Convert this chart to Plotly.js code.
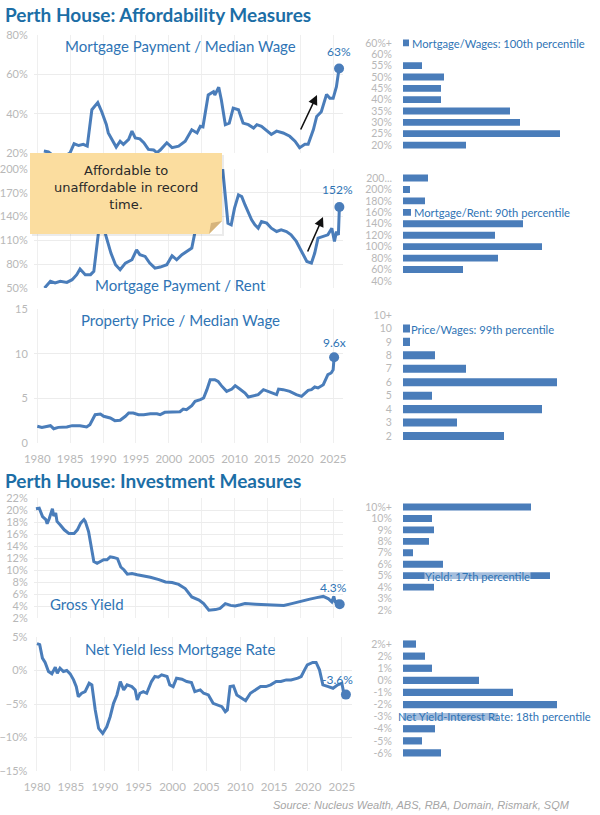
<!DOCTYPE html>
<html><head><meta charset="utf-8">
<script src="https://cdn.plot.ly/plotly-3.0.1.min.js"></script>
<style>html,body{margin:0;padding:0;background:#fff}#chart{width:600px;height:815px}</style>
</head><body><div id="chart"></div>
<script>
// ---------- DATA ----------
// Mortgage Payment / Median Wage (%)
const mwYears = [1981.0,1981.7,1982.5,1983.5,1984.5,1985.0,1985.6,1986.3,1987.0,1987.6,1988.3,1989.2,1989.8,1990.5,1990.8,1991.3,1992.0,1992.6,1993.1,1993.9,1994.4,1994.9,1995.6,1996.2,1996.9,1997.7,1998.2,1998.7,1999.7,2000.5,2001.5,2002.5,2003.5,2004.3,2004.8,2005.2,2006.0,2006.8,2007.0,2007.6,2008.0,2008.6,2009.2,2009.8,2010.6,2011.3,2012.1,2012.9,2013.4,2014.1,2014.9,2015.6,2016.4,2017.4,2018.4,2019.2,2019.9,2020.7,2021.2,2022.0,2022.5,2023.2,2024.0,2024.5,2025.0,2025.5,2025.9];
const mwVals  = [21.0,20.5,18.5,17.5,19.0,20.2,24.7,23.8,24.4,23.5,42.0,45.6,41.0,34.5,30.2,26.9,23.0,26.0,24.4,26.9,31.1,27.7,27.2,25.2,21.8,21.5,20.2,21.5,25.2,22.7,23.5,26.0,31.8,30.2,33.6,33.3,49.5,51.2,49.5,53.4,47.0,34.4,35.2,42.8,42.0,35.2,34.4,32.7,34.4,33.6,31.6,29.4,31.1,30.2,28.5,26.0,22.7,24.4,24.4,31.9,38.6,41.0,49.8,47.8,47.8,53.7,63];
// Mortgage Payment / Rent (%)
const mrYears = [1981.1,1982.0,1982.7,1983.5,1984.5,1985.3,1986.0,1986.5,1987.3,1988.1,1988.6,1989.2,1989.6,1989.9,1990.4,1991.2,1991.9,1992.6,1993.4,1994.4,1995.1,1995.6,1996.4,1997.1,1997.9,1998.7,1999.7,2000.5,2001.2,2002.0,2002.7,2003.5,2004.0,2004.8,2005.5,2006.3,2007.0,2007.6,2008.2,2009.0,2009.5,2010.0,2010.6,2011.1,2011.6,2012.1,2012.6,2013.1,2013.6,2014.1,2014.9,2015.6,2016.4,2017.1,2017.9,2018.6,2019.4,2020.2,2021.0,2021.7,2022.2,2022.7,2023.5,2024.2,2024.8,2025.2,2025.5,2025.8,2025.95];
const mrVals  = [50,58.4,56.3,58.4,57.1,60.5,66.8,74,66.8,66.8,71,110.8,140,150,117,94,79.3,73,81.4,85.6,98,92,89.8,81.4,75,76.4,79.3,90.7,85.6,92,96.1,100.3,121,150,175,215,225,235,200,131.7,129.6,150.6,167.3,165.2,154.7,144.3,135.9,129.6,125.4,133.8,131.7,125.4,121.2,123.3,121.2,117.1,108.7,96.1,83.5,81.4,94,112.8,115,117,125.4,108.7,121,117,152];
// Property Price / Median Wage (x)
const ppYears = [1980.0,1980.7,1982.0,1982.5,1983.2,1984.5,1985.3,1986.5,1987.5,1988.0,1988.8,1989.6,1990.1,1991.1,1991.8,1992.6,1993.4,1993.9,1994.6,1995.4,1996.2,1997.2,1998.2,1998.7,1999.4,2000.7,2001.7,2002.2,2002.7,2003.5,2004.0,2004.8,2005.3,2005.8,2006.3,2007.0,2007.5,2008.0,2008.8,2009.6,2010.1,2010.8,2011.6,2012.1,2012.9,2013.6,2014.4,2015.1,2015.9,2016.4,2016.7,2017.4,2018.4,2019.4,2020.2,2020.7,2021.2,2021.7,2022.2,2022.7,2023.5,2024.2,2024.7,2025.0,2025.15];
const ppVals  = [1.87,1.75,1.94,1.6,1.75,1.79,1.94,1.94,1.79,2.05,3.17,3.25,2.99,2.8,2.5,2.54,2.99,3.36,3.36,3.17,3.17,3.28,3.28,3.17,3.43,3.43,3.5,3.8,3.73,4.18,4.66,4.85,5.04,5.97,7.09,7.09,6.9,6.42,5.78,6.04,6.42,6.04,5.6,5.15,5.3,5.41,5.97,5.78,5.52,5.41,6.04,5.97,5.78,5.41,5.22,5.6,5.9,5.97,6.27,6.16,6.53,7.65,7.84,8.2,9.6];
// Gross Yield (%)
const gyYears = [1979.8,1980.3,1980.8,1981.3,1981.5,1981.8,1982.3,1982.5,1982.8,1983.0,1983.5,1984.1,1984.8,1985.6,1986.1,1986.6,1987.1,1987.3,1987.8,1988.3,1988.6,1989.1,1989.6,1990.1,1990.6,1991.1,1991.6,1992.2,1992.7,1993.2,1993.7,1994.4,1995.2,1996.2,1997.2,1998.5,1999.5,2000.5,2001.5,2002.5,2003.5,2004.6,2005.3,2006.1,2007.1,2007.8,2008.6,2009.4,2010.1,2010.9,2011.6,2013.2,2014.7,2016.2,2017.5,2018.7,2020.0,2021.3,2022.5,2023.5,2024.3,2024.8,2025.1,2025.3,2025.7,2026.0];
const gyVals  = [20.2,20.3,18.9,18.4,17.7,18.5,20.2,19.0,19.5,18.1,17.5,16.7,16.1,16.1,16.7,17.8,18.4,18.1,16.4,13.3,11.4,11.1,11.4,11.7,11.7,12.2,12.1,11.9,10.5,10.0,9.3,9.4,9.2,9.0,8.8,8.4,8.0,7.9,7.6,6.9,5.5,5.0,4.4,3.3,3.4,3.6,4.4,4.1,4.0,4.2,4.4,4.3,4.2,4.2,4.1,4.4,4.8,5.1,5.4,5.6,5.2,4.7,5.6,4.7,4.8,4.3];
// Net Yield less Mortgage Rate (%)
const nyYears = [1980.0,1980.4,1980.8,1981.2,1981.7,1982.2,1982.7,1983.0,1983.4,1983.9,1984.4,1984.9,1985.4,1985.8,1986.1,1986.6,1987.1,1987.7,1988.1,1988.6,1989.1,1989.7,1990.3,1990.8,1991.3,1991.8,1992.3,1992.8,1993.3,1994.0,1994.5,1994.8,1995.2,1995.7,1996.2,1996.9,1997.4,1997.9,1998.4,1999.2,1999.6,2000.1,2000.6,2001.4,2002.1,2002.8,2003.3,2004.1,2004.6,2005.3,2006.0,2006.8,2007.3,2007.8,2008.1,2008.5,2009.0,2009.5,2010.3,2010.8,2011.5,2012.3,2013.0,2013.8,2014.5,2015.3,2016.0,2016.8,2017.5,2018.5,2019.0,2019.5,2019.9,2020.7,2021.2,2021.7,2022.2,2023.0,2023.7,2024.4,2025.0,2025.3,2025.6];
const nyVals  = [4.0,3.85,1.85,1.2,-0.15,-0.5,0.5,-0.4,0.35,-0.15,0,-0.5,-1.4,-2.4,-3.9,-3.4,-3.15,-1.9,-2.15,-5.9,-8.65,-9.4,-8.4,-6.9,-4.9,-3.65,-1.65,-2.9,-2.15,-2.4,-2.9,-4.4,-3.4,-3.15,-3.4,-1.65,-0.9,-1.0,-0.65,-0.9,-2.15,-2.4,-1.15,-1.3,-1.65,-1.8,-3.15,-2.9,-3.4,-3.65,-4.9,-5.15,-5.4,-6.15,-5.9,-2.4,-2.3,-3.65,-4.15,-4.5,-3.4,-2.9,-2.4,-2.4,-2.15,-1.65,-1.65,-1.4,-1.4,-1.15,-0.9,0.1,0.85,1.2,1.2,0.1,-2.15,-2.4,-2.65,-2.15,-1.9,-3.4,-3.6];

// Histograms (relative frequency, top bin first)
const mwBins = ["60%+","60%","55%","50%","45%","40%","35%","30%","25%","20%"];
const mwFreq = [6,0,19,41,38,38,107,117,157,63];
const mrBins = ["200...","200%","180%","160%","140%","120%","100%","80%","60%","40%"];
const mrFreq = [25,7,22,8,120,92,139,95,60,0];
const ppBins = ["10+","10","9","8","7","6","5","4","3","2"];
const ppFreq = [0,7,7,32,63,154,29,139,54,101];
const gyBins = ["10%+","10%","9%","8%","7%","6%","5%","4%","3%","2%"];
const gyFreq = [128,29,31,26,10,40,147,31,0,0];
const nyBins = ["2%+","2%","1%","0%","-1%","-2%","-3%","-4%","-5%","-6%"];
const nyFreq = [13,22,29,76,110,154,95,32,19,38];

// ---------- LAYOUT HELPERS ----------
const W = 600, H = 815;
const px = x => x / W;
const py = y => 1 - y / H;
const LINE = '#4a7dba';
const TXT = '#2f74b5';
const TICK = '#b8b8b8';
const FONT = 'Lato, "Open Sans", sans-serif';
const last = a => a[a.length - 1];

const traces = [];
function lineTrace(xs, ys, n) {
  traces.push({type:'scatter', mode:'lines', x:xs, y:ys, xaxis:'x'+n, yaxis:'y'+n,
    line:{color:LINE, width:3}, hoverinfo:'skip', showlegend:false});
  traces.push({type:'scatter', mode:'markers', x:[last(xs)], y:[last(ys)], xaxis:'x'+n, yaxis:'y'+n,
    marker:{color:LINE, size:10}, hoverinfo:'skip', showlegend:false, cliponaxis:false});
}
lineTrace(mwYears, mwVals, '');
lineTrace(mrYears, mrVals, 2);
lineTrace(ppYears, ppVals, 3);
lineTrace(gyYears, gyVals, 4);
lineTrace(nyYears, nyVals, 5);

function barTrace(bins, freq, n) {
  traces.push({type:'bar', orientation:'h', y:bins, x:freq, xaxis:'x'+n, yaxis:'y'+n,
    marker:{color:LINE}, hoverinfo:'skip', showlegend:false});
}
barTrace(mwBins, mwFreq, 6);
barTrace(mrBins, mrFreq, 7);
barTrace(ppBins, ppFreq, 8);
barTrace(gyBins, gyFreq, 9);
barTrace(nyBins, nyFreq, 10);

const lineX = [px(34), px(343)];
const lineX5 = [px(33.6), px(352)];
const XR = [1979.5, 2026.5];
function xAx(dom, showLabels) {
  return {domain:dom, range:XR, showgrid:true, gridcolor:'#efefef', gridwidth:1, dtick:5, tick0:1980,
    zeroline:false, showline:false, showticklabels:showLabels, ticks: showLabels?'outside':'',
    ticklen:5, tickcolor:'rgba(0,0,0,0)', tickfont:{family:FONT, size:11.5, color:TICK}, fixedrange:true};
}
function yAx(top, bottom, range, dtick, suffix, anchor) {
  return {domain:[py(bottom), py(top)], range:range, dtick:dtick, tick0:range[0], ticksuffix:suffix,
    showgrid:true, gridcolor:'#ececec', zeroline:false, showline:false, anchor:anchor,
    ticks:'outside', ticklen:3, tickcolor:'rgba(0,0,0,0)', tickfont:{family:FONT, size:11, color:TICK}, fixedrange:true};
}
const histX = [px(403), px(593)];
function hX(anchor) {
  return {domain:histX, range:[0,190], showgrid:false, zeroline:false, showline:false, showticklabels:false, anchor:anchor, fixedrange:true};
}
function hY(top, bottom, anchor, bins) {
  return {domain:[py(bottom), py(top)], autorange:'reversed', type:'category', showgrid:false, zeroline:false, showline:false,
    tickmode:'array', tickvals:bins, ticktext:bins,
    ticks:'outside', ticklen:8, tickcolor:'rgba(0,0,0,0)', anchor:anchor,
    tickfont:{family:FONT, size:10.5, color:TICK}, fixedrange:true};
}

const annotations = [];
function ann(x, y, text, opts) {
  annotations.push(Object.assign({xref:'paper', yref:'paper', x:px(x), y:py(y), text:text, showarrow:false,
    xanchor:'center', yanchor:'middle',
    font:{family:FONT, size:15, color:TXT}}, opts || {}));
}
// Section titles
const titleFont = {family:'"Liberation Sans Narrow", "Arial Narrow", Lato, sans-serif', size:19, color:'#1c6ea6', weight:'bold'};
ann(3, 14, '<b>Perth House: Affordability Measures</b>', {xanchor:'left', font:titleFont});
ann(3, 480, '<b>Perth House: Investment Measures</b>', {xanchor:'left', font:titleFont});
// Panel titles
ann(180, 46, 'Mortgage Payment / Median Wage');
ann(180, 285, 'Mortgage Payment / Rent');
ann(180, 320, 'Property Price / Median Wage');
ann(48, 604, 'Gross Yield', {xanchor:'left'});
ann(180, 649, 'Net Yield less Mortgage Rate');
// End-value labels (data-anchored)
function valLab(xs, ys, n, text, xshift, yshift) {
  annotations.push({xref:'x'+n, yref:'y'+n, x:last(xs), y:last(ys), text:text, showarrow:false,
    xanchor:'center', yanchor:'middle',
    xshift:xshift, yshift:yshift, font:{family:FONT, size:12, color:TXT}});
}
valLab(mwYears, mwVals, '', Math.round(last(mwVals)) + '%', 0, 17);
valLab(mrYears, mrVals, 2, Math.round(last(mrVals)) + '%', -2, 18);
valLab(ppYears, ppVals, 3, last(ppVals).toFixed(1) + 'x', 0, 15);
valLab(gyYears, gyVals, 4, last(gyVals).toFixed(1) + '%', -6, 17);
valLab(nyYears, nyVals, 5, last(nyVals).toFixed(1) + '%', -8, 15);
// Arrows
function arrow(x0, y0, x1, y1) {
  annotations.push({xref:'paper', yref:'paper', x:px(x1), y:py(y1), ax:px(x0), ay:py(y0), axref:'paper', ayref:'paper',
    text:'', showarrow:true, arrowhead:2, arrowsize:1.2, arrowwidth:1.6, arrowcolor:'#111'});
}
arrow(300, 131, 317, 95);
arrow(307, 253, 323, 217);
// Note text
ann(126, 187, 'Affordable to<br>unaffordable in record<br>time.', {font:{family:'"DejaVu Sans", sans-serif', size:13, color:'#2a2a2a'}});
// Histogram percentile labels
function pLab(x, y, text, bg) {
  ann(x, y, text, {xanchor:'left', font:{family:FONT, size:11.2, color:TXT}, bgcolor:bg, borderpad:0});
}
pLab(411, 43, 'Mortgage/Wages: 100th percentile', 'rgba(0,0,0,0)');
pLab(413, 212, 'Mortgage/Rent: 90th percentile', 'rgba(255,255,255,0.55)');
pLab(410, 329, 'Price/Wages: 99th percentile', 'rgba(0,0,0,0)');
pLab(424, 576, 'Yield: 17th percentile', 'rgba(255,255,255,0.5)');
pLab(397, 716, 'Net Yield-Interest Rate: 18th percentile', 'rgba(255,255,255,0.5)');
// Source
ann(572, 805, '<i>Source: Nucleus Wealth, ABS, RBA, Domain, Rismark, SQM</i>', {xanchor:'right',
  font:{family:'"Liberation Sans", Arial, sans-serif', size:11, color:'#a6a6a6'}});

// Note box shapes
const shapes = [
  {type:'rect', xref:'paper', yref:'paper', x0:px(32), x1:px(224), y0:py(236), y1:py(155), fillcolor:'rgba(0,0,0,0.08)', line:{width:0}, layer:'above'},
  {type:'rect', xref:'paper', yref:'paper', x0:px(30), x1:px(222), y0:py(234), y1:py(153), fillcolor:'#fbdd9f', line:{width:0}, layer:'above'},
  {type:'path', xref:'paper', yref:'paper', path:`M ${px(209)} ${py(234)} L ${px(222)} ${py(221)} L ${px(222)} ${py(234)} Z`, fillcolor:'#ffffff', line:{width:0}, layer:'above'},
  {type:'path', xref:'paper', yref:'paper', path:`M ${px(209)} ${py(234)} L ${px(222)} ${py(221)} L ${px(211)} ${py(223)} Z`, fillcolor:'#d6b47c', line:{width:0}, layer:'above'}
];

const layout = {
  width:W, height:H, margin:{l:0, r:0, t:0, b:0}, paper_bgcolor:'#fff', plot_bgcolor:'#fff',
  showlegend:false, bargap:0.4, font:{family:FONT},
  xaxis: Object.assign(xAx(lineX, false), {anchor:'y'}), yaxis: yAx(35, 153, [20,80], 20, '%', 'x'),
  xaxis2: Object.assign(xAx(lineX, false), {anchor:'y2'}), yaxis2: yAx(169, 288, [50,200], 30, '%', 'x2'),
  xaxis3: Object.assign(xAx(lineX, true), {anchor:'y3'}), yaxis3: yAx(309, 443, [0,15], 5, '', 'x3'),
  xaxis4: Object.assign(xAx(lineX, false), {anchor:'y4'}), yaxis4: yAx(498, 618, [2,22], 2, '%', 'x4'),
  xaxis5: Object.assign(xAx(lineX5, true), {anchor:'y5'}), yaxis5: yAx(637, 771, [-15,5], 5, '%', 'x5'),
  xaxis6: hX('y6'), yaxis6: hY(37.3, 150.7, 'x6', mwBins),
  xaxis7: hX('y7'), yaxis7: hY(172.3, 286.7, 'x7', mrBins),
  xaxis8: hX('y8'), yaxis8: hY(308.3, 442.7, 'x8', ppBins),
  xaxis9: hX('y9'), yaxis9: hY(501.3, 615.7, 'x9', gyBins),
  xaxis10: hX('y10'), yaxis10: hY(638, 759, 'x10', nyBins),
  annotations: annotations, shapes: shapes
};
Plotly.newPlot('chart', traces, layout, {staticPlot:true, displayModeBar:false});
</script></body></html>
